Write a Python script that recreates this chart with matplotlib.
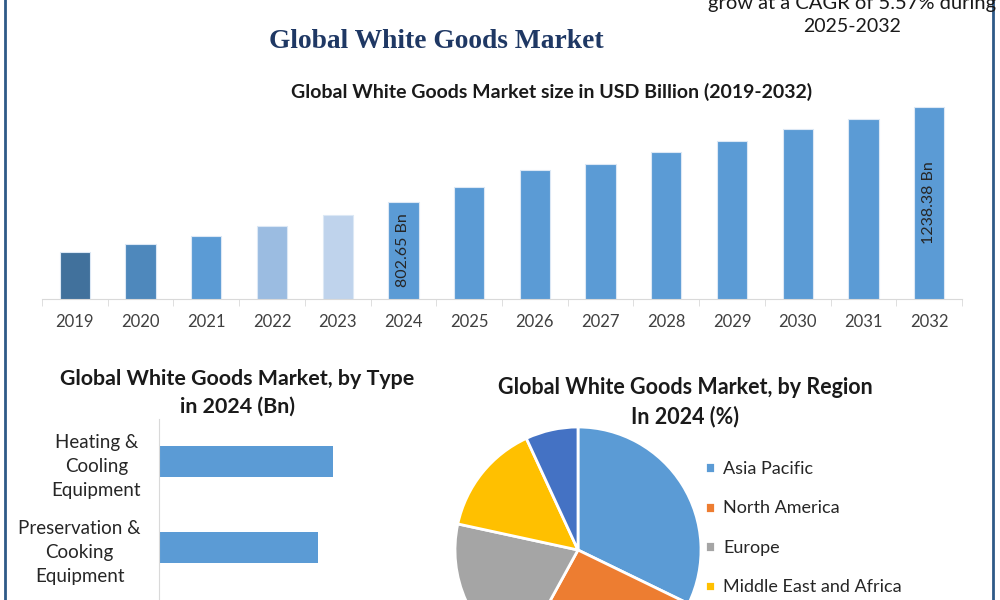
import matplotlib
matplotlib.use("Agg")
import matplotlib.pyplot as plt
import numpy as np
from matplotlib.patches import Circle
from matplotlib.lines import Line2D

plt.rcParams['font.family'] = ['Lato', 'DejaVu Sans']

# market size, USD billion
years = ['2019', '2020', '2021', '2022', '2023', '2024', '2025',
         '2026', '2027', '2028', '2029', '2030', '2031', '2032']
market_size = [573, 610, 648, 691, 744, 802.65, 873,
               948, 976, 1031, 1082, 1136, 1185, 1238.38]
bar_colors = ['#41719C', '#4E88BC', '#5B9BD5', '#9BBCE1', '#BFD3EC'] + ['#5B9BD5'] * 9
labelled_years = {'2024': '802.65 Bn', '2032': '1238.38 Bn'}

# by type, 2024 (Bn)
types = ['Heating &\nCooling\nEquipment', 'Preservation &\nCooking\nEquipment']
type_values = [290, 265]

# by region, 2024 (%)
regions = ['Asia Pacific', 'North America', 'Europe', 'Middle East and Africa', 'South America']
region_share = [32.2, 25.8, 20.4, 14.7, 6.9]
region_colors = ['#5B9BD5', '#ED7D31', '#A5A5A5', '#FFC000', '#4472C4']

W, H = 1000, 600
fig = plt.figure(figsize=(10, 6), dpi=100)
fig.patch.set_facecolor('white')


def fx(px):
    return px / W


def fy(py):
    return 1 - py / H


# decorations at the top edge and the frame
for cx, cy, r in [(237, -54, 62), (656, -46, 58)]:
    fig.patches.append(Circle((fx(cx), fy(cy)), r / W, transform=fig.transFigure,
                              facecolor='#1F4E79', edgecolor='none'))
for x in [4.5, 992.5]:
    fig.lines.append(Line2D([fx(x), fx(x)], [0, 1], transform=fig.transFigure,
                            color='#2E5A87', lw=2))

fig.text(fx(852), fy(8.5), 'grow at a CAGR of 5.57% during', ha='center', va='baseline',
         fontsize=14.5, color='#1a1a1a')
fig.text(fx(852), fy(31.5), '2025-2032', ha='center', va='baseline',
         fontsize=14, color='#1a1a1a')
fig.text(fx(436), fy(42), 'Global White Goods Market', ha='center', va='center',
         fontsize=19.8, fontweight='bold', family='Liberation Serif', color='#1F3864')

# --- top: market size bars ---
ax = fig.add_axes([fx(42), fy(299), fx(962 - 42), (299 - 100) / H])
x = np.arange(len(years))
ax.bar(x, market_size, width=0.46, color=bar_colors, edgecolor='#DCE8F5', linewidth=0.8)
ax.set_ylim(357.7, 357.7 + 199 * 4.587)
ax.set_xlim(-0.5, len(years) - 0.5)
for sp in ['top', 'right', 'left']:
    ax.spines[sp].set_visible(False)
ax.spines['bottom'].set_color('#D9D9D9')
ax.set_yticks([])
ax.set_xticks(x)
ax.set_xticklabels(years, fontsize=12, color='#404040')
ax.tick_params(axis='x', length=0, pad=11)
ax.set_xticks(np.arange(-0.5, len(years)), minor=True)
ax.tick_params(axis='x', which='minor', length=5, color='#D9D9D9')
for i, yr in enumerate(years):
    if yr in labelled_years:
        ax.text(i, (357.7 + market_size[i]) / 2, labelled_years[yr], rotation=90,
                ha='center', va='center', fontsize=11.5, color='#262626')
fig.text(fx(552), fy(92), 'Global White Goods Market size in USD Billion (2019-2032)',
         ha='center', va='center', fontsize=14, fontweight='bold', color='#1a1a1a')

# --- bottom left: by type ---
ax2 = fig.add_axes([fx(159), fy(675.5), fx(281), (675.5 - 419) / H])
ax2.barh(np.arange(len(types)), type_values, height=0.36, color='#5B9BD5')
ax2.set_ylim(2.5, -0.5)
ax2.set_xlim(0, 290 * 281 / 174)
for sp in ['top', 'right', 'bottom']:
    ax2.spines[sp].set_visible(False)
ax2.spines['left'].set_color('#D9D9D9')
ax2.set_xticks([])
ax2.set_yticks(np.arange(len(types)))
ax2.set_yticklabels(types, fontsize=13.5, color='#262626', multialignment='center',
                    linespacing=1.5)
ax2.tick_params(axis='y', length=0, pad=13)
fig.text(fx(237), fy(393), 'Global White Goods Market, by Type\nin 2024 (Bn)',
         ha='center', va='center', fontsize=15.4, fontweight='bold', color='#1a1a1a',
         linespacing=1.45)

# --- bottom right: by region ---
ax3 = fig.add_axes([fx(578 - 123), fy(550 + 123), fx(246), 246 / H])
wedges, _ = ax3.pie(region_share, colors=region_colors, startangle=90, counterclock=False,
                    wedgeprops=dict(edgecolor='white', linewidth=2))
ax3.set_xlim(-1, 1)
ax3.set_ylim(-1, 1)
for w in wedges:
    w.set_clip_on(False)
fig.text(fx(685), fy(402), 'Global White Goods Market, by Region\nIn 2024 (%)',
         ha='center', va='center', fontsize=15.5, fontweight='bold', color='#1a1a1a',
         linespacing=1.4)
fig.legend(wedges, regions, loc='upper left', bbox_to_anchor=(fx(705), fy(461)),
           frameon=False, fontsize=13, handlelength=0.55, handleheight=0.55,
           handletextpad=0.45, labelspacing=1.3, borderpad=0, borderaxespad=0,
           labelcolor='#262626')

fig.savefig('out.png', dpi=100)
